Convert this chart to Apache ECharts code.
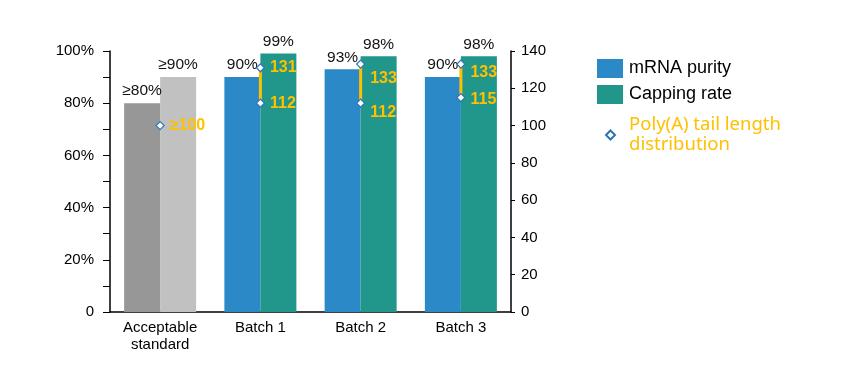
<!DOCTYPE html>
<html><head><meta charset="utf-8">
<script src="https://cdn.jsdelivr.net/npm/echarts@6/dist/echarts.min.js"></script>
<style>html,body{margin:0;padding:0;background:#fff}#c{width:843px;height:371px}</style>
</head><body><div id="c"></div>
<script>
const categories = ['Acceptable\nstandard', 'Batch 1', 'Batch 2', 'Batch 3'];
const purity = [80, 90, 93, 90];
const capping = [90, 99, 98, 98];
const purityLabels = ['≥80%', '90%', '93%', '90%'];
const cappingLabels = ['≥90%', '99%', '98%', '98%'];
const polyLow = [100, 112, 112, 115];
const polyHigh = [null, 131, 133, 133];
const polyLowLabels = ['≥100', '112', '112', '115'];
const polyHighLabels = ['', '131', '133', '133'];

const BLUE = '#2A89C6', TEAL = '#21968B', GRAY1 = '#979797', GRAY2 = '#C1C1C1', YEL = '#FFC000';
const F = 'Liberation Sans, Arial, sans-serif';

// label vertical tweaks (style only)
const lowOff = [[0, 0], [0, 0], [0, 9], [0, 2]];
const highOff = [[0, 0], [0, 0], [0, 15], [0, 9]];

const chart = echarts.init(document.getElementById('c'));
const pctLabel = (txt) => ({ show: true, position: 'top', distance: 4, formatter: txt, color: '#111', fontSize: 15.5, fontFamily: F });

const purityData = purity.map((v, i) => ({
  value: v / 100,
  itemStyle: i === 0 ? { color: GRAY1 } : undefined,
  label: pctLabel(purityLabels[i])
}));
const cappingData = capping.map((v, i) => ({
  value: v / 100,
  itemStyle: i === 0 ? { color: GRAY2 } : undefined,
  label: pctLabel(cappingLabels[i])
}));

const scatterData = [];
polyLow.forEach((v, i) => {
  if (v != null) scatterData.push({ value: [i, v], label: { show: true, position: 'right', offset: lowOff[i], formatter: polyLowLabels[i] } });
});
polyHigh.forEach((v, i) => {
  if (v != null) scatterData.push({ value: [i, v], label: { show: true, position: 'right', offset: highOff[i], formatter: polyHighLabels[i] } });
});
const rangeData = [];
polyHigh.forEach((v, i) => { if (v != null) rangeData.push([i, polyLow[i], v]); });

chart.setOption({
  animation: false,
  textStyle: { fontFamily: F },
  grid: { left: 110, right: 332, top: 51, bottom: 59 },
  legend: [{
    orient: 'vertical', left: 597, top: 59, padding: 0, itemWidth: 26, itemHeight: 19, itemGap: 7,
    textStyle: { fontSize: 18, color: '#000', fontFamily: F, padding: [0, 0, 0, 1] },
    data: [{ name: 'mRNA purity', icon: 'rect' }, { name: 'Capping rate', icon: 'rect' }]
  }, {
    orient: 'vertical', left: 605, top: 115, padding: 0, itemWidth: 9, itemHeight: 9,
    textStyle: { fontSize: 18.5, color: YEL, fontFamily: 'Noto Sans, sans-serif', lineHeight: 20, padding: [0, 0, 0, 9] },
    formatter: () => 'Poly(A) tail length\ndistribution',
    data: [{ name: 'Poly(A) tail length distribution', icon: 'diamond' }]
  }],
  xAxis: {
    type: 'category', data: categories,
    axisLine: { lineStyle: { color: '#000', width: 1.5 } },
    axisTick: { show: false },
    axisLabel: { color: '#000', fontSize: 15, lineHeight: 17, margin: 7, fontFamily: F }
  },
  yAxis: [{
    type: 'value', min: 0, max: 1, interval: 0.2,
    axisLine: { show: true, lineStyle: { color: '#000', width: 1.5 } },
    axisTick: { show: true, length: 7, lineStyle: { color: '#000' } },
    minorTick: { show: true, splitNumber: 2, length: 7, lineStyle: { color: '#000' } },
    splitLine: { show: false },
    axisLabel: { color: '#000', fontSize: 15, margin: 16, fontFamily: F, formatter: v => v === 0 ? '0' : Math.round(v * 100) + '%' }
  }, {
    type: 'value', min: 0, max: 140, interval: 20, position: 'right',
    axisLine: { show: true, lineStyle: { color: '#000', width: 1.5 } },
    axisTick: { show: true, length: 4, lineStyle: { color: '#000' } },
    splitLine: { show: false },
    axisLabel: { color: '#000', fontSize: 15, margin: 10, fontFamily: F }
  }],
  series: [{
    name: 'mRNA purity', type: 'bar', barWidth: 36, barGap: '0%',
    itemStyle: { color: BLUE }, data: purityData
  }, {
    name: 'Capping rate', type: 'bar', barWidth: 36, barGap: '0%',
    itemStyle: { color: TEAL }, data: cappingData
  }, {
    name: 'range', type: 'custom', yAxisIndex: 1, z: 5,
    renderItem: (params, api) => {
      const a = api.coord([api.value(0), api.value(1)]);
      const b = api.coord([api.value(0), api.value(2)]);
      return { type: 'line', shape: { x1: a[0], y1: a[1], x2: b[0], y2: b[1] }, style: { stroke: YEL, lineWidth: 3 } };
    },
    data: rangeData
  }, {
    name: 'Poly(A) tail length distribution', type: 'scatter', yAxisIndex: 1, z: 10,
    symbol: 'diamond', symbolSize: 8,
    itemStyle: { color: '#fff', borderColor: '#2E75B6', borderWidth: 1.2, opacity: 1 },
    label: { color: YEL, fontWeight: 'bold', fontSize: 16, fontFamily: F, distance: 5 },
    data: scatterData
  }]
});
</script></body></html>
